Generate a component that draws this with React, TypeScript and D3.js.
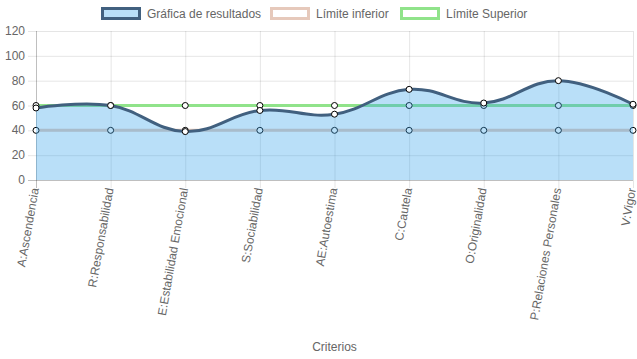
import { useEffect, useRef } from 'react'
import * as d3 from 'd3'

const categories = [
  'A:Ascendencia',
  'R:Responsabilidad',
  'E:Estabilidad Emocional',
  'S:Sociabilidad',
  'AE:Autoestima',
  'C:Cautela',
  'O:Originalidad',
  'P:Relaciones Personales',
  'V:Vigor',
]
const results = [58, 60, 39, 56, 53, 73, 62, 80, 61]
const lowerLimit = [40, 40, 40, 40, 40, 40, 40, 40, 40]
const upperLimit = [60, 60, 60, 60, 60, 60, 60, 60, 60]
const yTicks = [0, 20, 40, 60, 80, 100, 120]
const legendItems = [
  { label: 'Gráfica de resultados', fill: 'rgba(54,162,235,0.35)', stroke: '#41607f' },
  { label: 'Límite inferior', fill: '#fff', stroke: '#e6c9bb' },
  { label: 'Límite Superior', fill: '#fff', stroke: '#90e38a' },
]

const W = 637
const H = 359
const FONT = '"Liberation Sans", Arial, sans-serif'

export default function App() {
  const svgRef = useRef<SVGSVGElement>(null)

  useEffect(() => {
    if (!svgRef.current) return
    const svg = d3.select(svgRef.current)
    svg.selectAll('*').remove()

    const left = 36
    const right = 633
    const top = 31
    const bottom = 180

    const x = d3.scalePoint<string>().domain(categories).range([left, right])
    const y = d3.scaleLinear().domain([0, 120]).range([bottom, top])

    // grid
    const grid = svg.append('g')
    yTicks.forEach((t) => {
      grid.append('line')
        .attr('x1', left - 8).attr('x2', right)
        .attr('y1', y(t) + 0.5).attr('y2', y(t) + 0.5)
        .attr('stroke', t === 0 ? 'rgba(0,0,0,0.25)' : 'rgba(0,0,0,0.1)')
        .attr('stroke-width', 1)
    })
    categories.forEach((c) => {
      grid.append('line')
        .attr('x1', x(c)! + 0.5).attr('x2', x(c)! + 0.5)
        .attr('y1', top).attr('y2', bottom + 8)
        .attr('stroke', c === categories[0] ? 'rgba(0,0,0,0.25)' : 'rgba(0,0,0,0.1)')
    })

    // y tick labels
    yTicks.forEach((t) => {
      svg.append('text')
        .attr('x', 25).attr('y', y(t))
        .attr('text-anchor', 'end')
        .attr('dominant-baseline', 'central')
        .attr('font-family', FONT).attr('font-size', 12)
        .attr('fill', '#666')
        .text(t)
    })

    // x tick labels (rotated)
    categories.forEach((c) => {
      svg.append('text')
        .attr('transform', `translate(${x(c)! - 1},${bottom + 8}) rotate(-80)`)
        .attr('text-anchor', 'end')
        .attr('dominant-baseline', 'central')
        .attr('font-family', FONT).attr('font-size', 12)
        .attr('fill', '#666')
        .text(c)
    })

    svg.append('text')
      .attr('x', (left + right) / 2).attr('y', 347)
      .attr('text-anchor', 'middle')
      .attr('dominant-baseline', 'central')
      .attr('font-family', FONT).attr('font-size', 12)
      .attr('fill', '#666')
      .text('Criterios')

    const straight = d3.line<number>()
      .x((_, i) => x(categories[i])!)
      .y((d) => y(d))
    const curve = d3.line<number>()
      .x((_, i) => x(categories[i])!)
      .y((d) => y(d))
      .curve(d3.curveCardinal.tension(-0.2))
    const area = d3.area<number>()
      .x((_, i) => x(categories[i])!)
      .y0(y(0))
      .y1((d) => y(d))
      .curve(d3.curveCardinal.tension(-0.2))

    const drawPoints = (vals: number[]) => {
      svg.append('g').selectAll('circle')
        .data(vals)
        .join('circle')
        .attr('cx', (_, i) => x(categories[i])!)
        .attr('cy', (d) => y(d))
        .attr('r', 3)
        .attr('fill', '#fff')
        .attr('stroke', '#000')
        .attr('stroke-width', 1)
    }

    // limit lines
    svg.append('path').datum(lowerLimit).attr('d', straight)
      .attr('fill', 'none').attr('stroke', '#e6c9bb').attr('stroke-width', 3)
    drawPoints(lowerLimit)
    svg.append('path').datum(upperLimit).attr('d', straight)
      .attr('fill', 'none').attr('stroke', '#90e38a').attr('stroke-width', 3)
    drawPoints(upperLimit)

    // results
    svg.append('path').datum(results).attr('d', area)
      .attr('fill', 'rgba(54,162,235,0.35)')
    svg.append('path').datum(results).attr('d', curve)
      .attr('fill', 'none').attr('stroke', '#41607f').attr('stroke-width', 3)
    drawPoints(results)

    // legend
    const starts = [101, 270, 400]
    legendItems.forEach((it, i) => {
      const g = svg.append('g').attr('transform', `translate(${starts[i]},7)`)
      g.append('rect')
        .attr('x', 1.5).attr('y', 1.5).attr('width', 37).attr('height', 10)
        .attr('fill', it.fill).attr('stroke', it.stroke).attr('stroke-width', 3)
      g.append('text')
        .attr('x', 46).attr('y', 7)
        .attr('dominant-baseline', 'central')
        .attr('font-family', FONT).attr('font-size', 12)
        .attr('fill', '#666')
        .text(it.label)
    })
  }, [])

  return (
    <svg
      ref={svgRef}
      width={W}
      height={H}
      style={{ position: 'absolute', left: 0, top: 0, background: '#fff' }}
    />
  )
}
